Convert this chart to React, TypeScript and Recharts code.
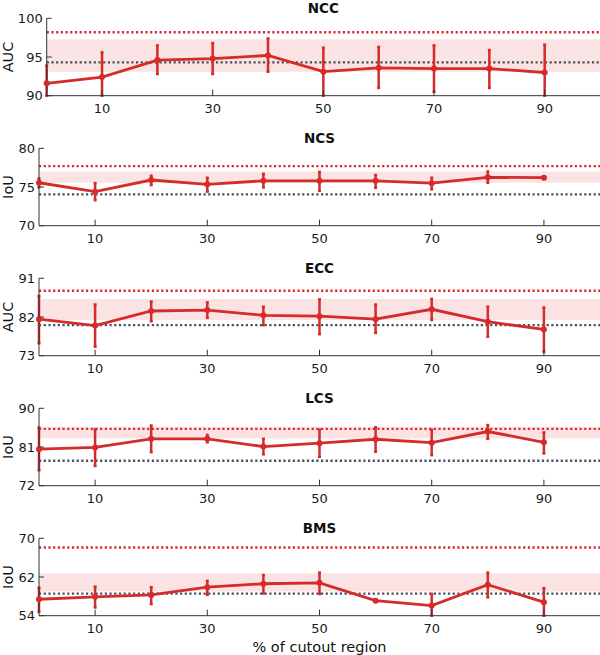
import { LineChart, Line, XAxis, YAxis, ReferenceLine, ReferenceArea, ErrorBar } from 'recharts';

const cutout = [0, 10, 20, 30, 40, 50, 60, 70, 80, 90];
const xTicks = [10, 30, 50, 70, 90];

// NCC
const nccMean = [91.6, 92.4, 94.6, 94.8, 95.2, 93.1, 93.6, 93.5, 93.5, 93.0];
const nccHigh = [93.9, 95.6, 96.5, 96.8, 97.4, 96.2, 96.3, 96.5, 95.9, 96.6];
const nccLow = [90.0, 90.0, 92.8, 92.8, 93.1, 90.0, 91.0, 90.5, 91.0, 90.0];

// NCS
const ncsMean = [75.55, 74.4, 75.9, 75.35, 75.8, 75.8, 75.8, 75.5, 76.25, 76.2];
const ncsHigh = [76.1, 75.5, 76.45, 76.2, 76.7, 76.95, 76.55, 76.2, 77.0, 76.35];
const ncsLow = [74.95, 73.3, 75.25, 74.4, 74.95, 74.5, 74.9, 74.7, 75.55, 76.05];

// ECC
const eccMean = [81.5, 80.0, 83.4, 83.6, 82.4, 82.2, 81.5, 83.8, 80.9, 79.1];
const eccHigh = [86.9, 84.9, 85.6, 85.4, 84.4, 86.1, 84.9, 86.2, 84.4, 84.2];
const eccLow = [75.9, 75.1, 81.0, 81.8, 80.1, 78.0, 78.3, 81.3, 77.4, 73.9];

// LCS
const lcsMean = [80.5, 80.9, 82.9, 82.9, 81.1, 81.9, 82.8, 82.0, 84.6, 82.1];
const lcsHigh = [85.5, 85.1, 86.0, 83.8, 82.9, 85.0, 85.6, 85.0, 86.1, 84.4];
const lcsLow = [75.6, 76.6, 79.8, 82.1, 79.3, 78.7, 79.9, 79.1, 82.9, 79.5];

// BMS
const bmsMean = [57.4, 57.9, 58.3, 59.9, 60.6, 60.8, 57.1, 56.1, 60.4, 56.8];
const bmsHigh = [59.8, 60.0, 59.9, 61.2, 62.4, 62.9, 57.3, 58.5, 62.9, 59.7];
const bmsLow = [54.8, 55.7, 56.4, 58.3, 58.6, 58.5, 56.9, 54.0, 57.8, 54.0];

const RED = '#d52b2b';
const FONT = '"DejaVu Sans", sans-serif';

const XTick = (p: any) => (
  <g>
    <line x1={p.x} x2={p.x} y1={p.y} y2={p.y - 6} stroke="#333" />
    <text x={p.x} y={p.y + 17.3} textAnchor="middle" fontSize={13} fill="#1a1a1a" fontFamily={FONT}>
      {p.payload.value}
    </text>
  </g>
);

const YTick = (p: any) => (
  <g>
    <line x1={p.x} x2={p.x + 5} y1={p.y} y2={p.y} stroke="#333" />
    <text x={p.x - 4} y={p.y + 4.7} textAnchor="end" fontSize={13} fill="#1a1a1a" fontFamily={FONT}>
      {p.payload.value}
    </text>
  </g>
);

function Panel(props: any) {
  const { top, title, yLabel, axisW, domain, yTicks, mean, high, low, best, base, band, height = 130, xLabel } = props;
  const data = cutout.map((x, i) => ({ x, v: mean[i], err: [mean[i] - low[i], high[i] - mean[i]] }));
  const plotTop = 18.3;
  const plotH = 77.4;
  const cx = (axisW + 600) / 2;
  return (
    <div style={{ position: 'absolute', left: 0, top, width: 600, height }}>
      <LineChart width={600} height={height} data={data} margin={{ top: plotTop, right: 0, bottom: 0, left: 0 }}>
        <ReferenceArea y1={band[0]} y2={band[1]} fill="#fbe3e3" fillOpacity={1} stroke="none" />
        <ReferenceLine y={base} stroke="#4b5060" strokeWidth={2.3} strokeDasharray="2.2 2.5" />
        <ReferenceLine y={best} stroke="#e0272c" strokeWidth={2.3} strokeDasharray="2.2 2.5" />
        <XAxis
          type="number"
          dataKey="x"
          domain={[0, 100]}
          ticks={xTicks}
          height={height - plotTop - plotH}
          tickSize={0}
          tickMargin={0}
          tickLine={false}
          axisLine={{ stroke: '#333' }}
          tick={<XTick />}
          interval={0}
        />
        <YAxis
          type="number"
          domain={domain}
          ticks={yTicks}
          width={axisW}
          tickSize={0}
          tickMargin={0}
          tickLine={false}
          axisLine={{ stroke: '#333' }}
          tick={<YTick />}
          interval={0}
        />
        <Line
          type="linear"
          dataKey="v"
          stroke={RED}
          strokeWidth={2.8}
          dot={{ r: 3, fill: RED, stroke: 'none' }}
          activeDot={false}
          isAnimationActive={false}
        >
          <ErrorBar dataKey="err" direction="y" stroke={RED} strokeWidth={2.5} width={1.5} isAnimationActive={false} />
        </Line>
      </LineChart>
      <div
        style={{
          position: 'absolute', left: cx, top: 1.5, transform: 'translateX(-50%)',
          fontFamily: FONT, fontWeight: 'bold', fontSize: 13.5, lineHeight: 1, color: '#111', whiteSpace: 'nowrap',
        }}
      >
        {title}
      </div>
      <div
        style={{
          position: 'absolute', left: 7.5, top: plotTop + plotH / 2, transform: 'translate(-50%, -50%) rotate(-90deg)',
          fontFamily: FONT, fontSize: 14.5, lineHeight: 1, color: '#111', whiteSpace: 'nowrap',
        }}
      >
        {yLabel}
      </div>
      {xLabel && (
        <div
          style={{
            position: 'absolute', left: cx, top: 126.7, transform: 'translate(-50%, -50%)',
            fontFamily: FONT, fontSize: 14.5, lineHeight: 1, color: '#111', whiteSpace: 'nowrap',
          }}
        >
          {xLabel}
        </div>
      )}
    </div>
  );
}

export default function App() {
  return (
    <div style={{ position: 'absolute', left: 0, top: 0, width: 600, height: 655, background: '#fff', overflow: 'hidden' }}>
      <Panel top={0} title="NCC" yLabel="AUC" axisW={46.7} domain={[90, 100]} yTicks={[90, 95, 100]}
        mean={nccMean} high={nccHigh} low={nccLow} best={98.2} base={94.3} band={[93.1, 97.3]} />
      <Panel top={130} title="NCS" yLabel="IoU" axisW={39} domain={[70, 80]} yTicks={[70, 75, 80]}
        mean={ncsMean} high={ncsHigh} low={ncsLow} best={77.7} base={74.05} band={[75.55, 77.0]} />
      <Panel top={260} title="ECC" yLabel="AUC" axisW={39} domain={[73, 91]} yTicks={[73, 82, 91]}
        mean={eccMean} high={eccHigh} low={eccLow} best={88.1} base={80.1} band={[81.3, 86.2]} />
      <Panel top={390} title="LCS" yLabel="IoU" axisW={39} domain={[72, 90]} yTicks={[72, 81, 90]}
        mean={lcsMean} high={lcsHigh} low={lcsLow} best={85.2} base={77.8} band={[83.0, 85.7]} />
      <Panel top={520} height={135} title="BMS" yLabel="IoU" axisW={39} domain={[54, 70]} yTicks={[54, 62, 70]}
        mean={bmsMean} high={bmsHigh} low={bmsLow} best={68.1} base={58.55} band={[59.0, 62.8]}
        xLabel="% of cutout region" />
    </div>
  );
}
